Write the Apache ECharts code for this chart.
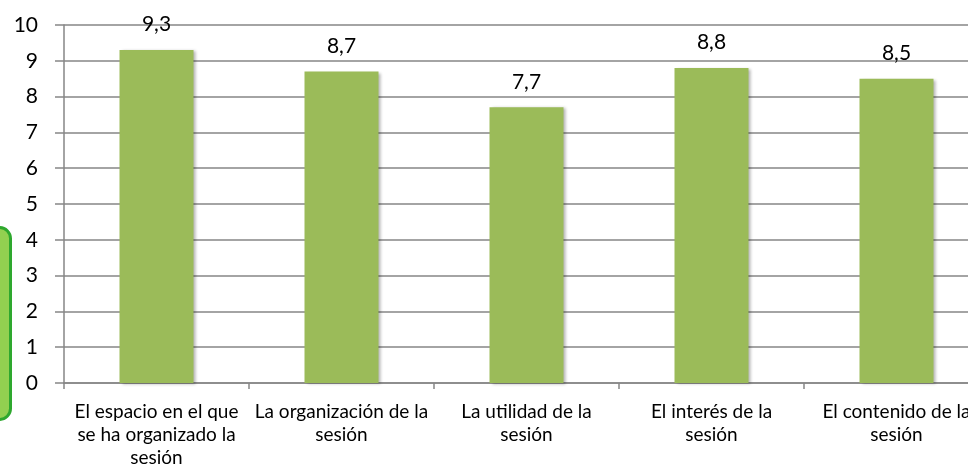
<!DOCTYPE html>
<html>
<head>
<meta charset="utf-8">
<script src="https://cdn.jsdelivr.net/npm/echarts@6/dist/echarts.min.js"></script>
<style>
  html, body { margin: 0; padding: 0; background: #fff; }
  #chart { width: 968px; height: 469px; }
</style>
</head>
<body>
<div id="chart"></div>
<script>
var categories = [
	"El espacio en el que\nse ha organizado la\nsesión",
	"La organización de la\nsesión",
	"La utilidad de la\nsesión",
	"El interés de la\nsesión",
	"El contenido de la\nsesión"
];
var values = [9.3, 8.7, 7.7, 8.8, 8.5];
var yMin = 0, yMax = 10, yStep = 1;

var chart = echarts.init(document.getElementById('chart'));
var fontFam = 'Lato, "Noto Sans", sans-serif';
var gray = '#868686';

var option = {
	animation: false,
	// plot runs past the right edge of the window, like the cropped original
	grid: { left: 64, top: 25, width: 925, height: 358, outerBoundsMode: 'none', containLabel: false },
	graphic: [{
		// green box peeking in at the left edge
		type: 'rect',
		left: -22,
		top: 226,
		shape: { width: 31, height: 192, r: 11 },
		style: { fill: '#92D050', stroke: '#2EA82E', lineWidth: 3 }
	}],
	xAxis: {
		type: 'category',
		data: categories,
		axisLine: { lineStyle: { color: gray, width: 1.5 } },
		axisTick: { show: true, length: 6, lineStyle: { color: gray, width: 1.5 } },
		axisLabel: {
			color: '#000',
			fontFamily: fontFam,
			fontSize: 19,
			lineHeight: 23,
			margin: 17,
			interval: 0
		}
	},
	yAxis: {
		type: 'value',
		min: yMin,
		max: yMax,
		interval: yStep,
		axisLine: { show: true, lineStyle: { color: gray, width: 1.5 } },
		axisTick: { show: true, length: 9, lineStyle: { color: gray, width: 1.5 } },
		splitLine: { lineStyle: { color: gray, width: 1.5 } },
		axisLabel: {
			color: '#000',
			fontFamily: fontFam,
			fontSize: 21,
			margin: 26
		}
	},
	series: [{
		type: 'bar',
		data: values,
		barWidth: '40%',
		itemStyle: {
			color: '#9BBB59',
			shadowColor: 'rgba(0,0,0,0.3)',
			shadowBlur: 3,
			shadowOffsetX: 2,
			shadowOffsetY: 1
		},
		label: {
			show: true,
			position: 'top',
			distance: 15,
			color: '#000',
			fontFamily: fontFam,
			fontSize: 21,
			formatter: function (p) {
				return String(p.value).replace('.', ',');
			}
		}
	}]
};

chart.setOption(option);
</script>
</body>
</html>
